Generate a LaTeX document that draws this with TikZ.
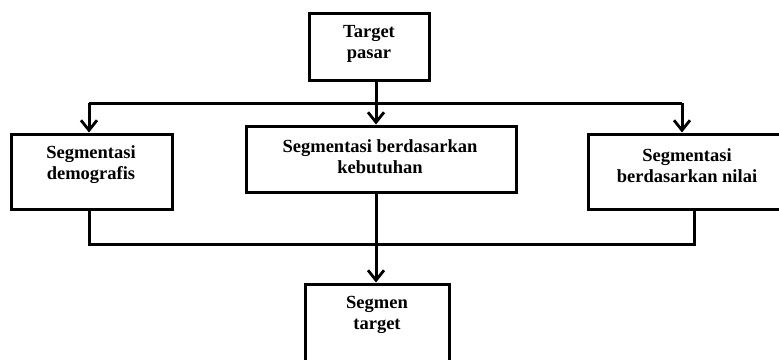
\documentclass[tikz,border=0pt]{standalone}
\usepackage{fontspec}
\setmainfont{Liberation Serif}
\usetikzlibrary{arrows.meta}
\begin{document}
\begin{tikzpicture}[x=1pt,y=-1pt,
  box/.style={draw,line width=3pt,inner sep=0pt,fill=white},
  txt/.style={font=\bfseries\fontsize{18.5}{21}\selectfont,align=center,inner sep=0pt},
  conn/.style={line width=3pt},
  arr/.style={line width=3pt,-{Straight Barb[length=10pt,width=16pt,line width=2.8pt]}}]
\useasboundingbox (0,0) rectangle (779,359);
% boxes
\node[box,minimum width=120pt,minimum height=67pt] (top) at (369,47) {};
\node[box,minimum width=161pt,minimum height=75pt] (left) at (91.5,171.5) {};
\node[box,minimum width=270pt,minimum height=66pt] (mid) at (381,159) {};
\node[box,minimum width=193pt,minimum height=75pt] (right) at (684.5,171.5) {};
\node[box,minimum width=144pt,minimum height=77pt] (bot) at (377,322.5) {};
% texts
\node[txt] (ttop) at (369,44) {Target\\pasar};
\node[txt] (tleft) at (91,165) {Segmentasi\\demografis};
\node[txt] (tmid) at (380,157) {Segmentasi berdasarkan\\kebutuhan};
\node[txt] (tright) at (687,165.5) {Segmentasi\\berdasarkan nilai};
\node[txt] (tbot) at (377,314.5) {Segmen\\target};
% junctions
\coordinate (j1) at (376,103);
\coordinate (jl) at (89,103);
\coordinate (jr) at (682,103);
\coordinate (bl) at (89,244);
\coordinate (br) at (694,244);
% connectors
\draw[conn] (top.south -| j1) -- (j1);
\draw[conn] (jl) -- (jr);
\draw[arr] (j1) -- (mid.north -| j1);
\draw[arr] (jl) -- (left.north -| jl);
\draw[arr] (jr) -- (right.north -| jr);
\draw[conn] (left.south -| bl) -- (bl) -- (br) -- (right.south -| br);
\draw[arr] (mid.south -| j1) -- (bot.north -| j1);
\end{tikzpicture}
\end{document}
